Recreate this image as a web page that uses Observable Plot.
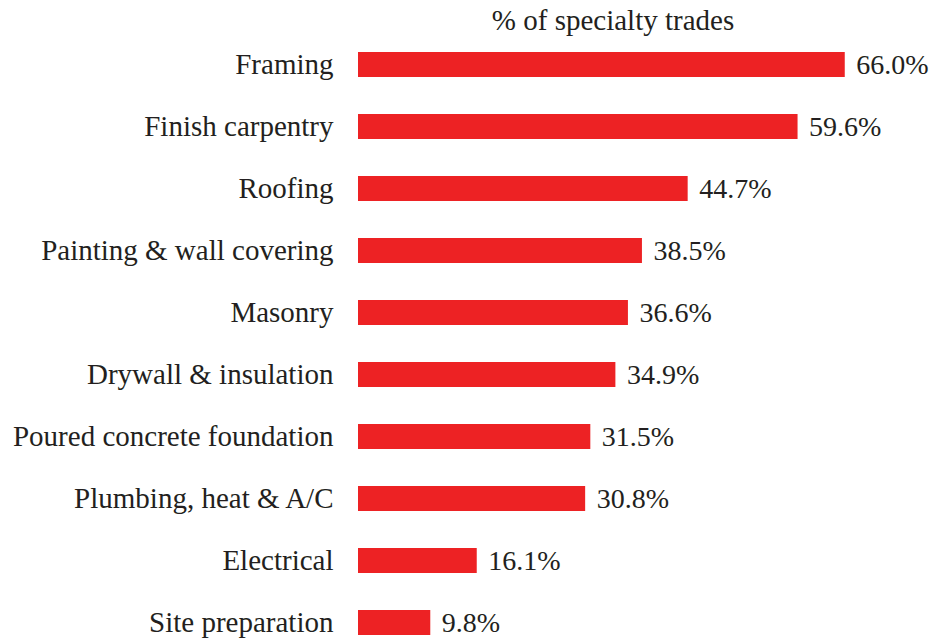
<!DOCTYPE html>
<html>
<head>
<meta charset="utf-8">
<script src="https://cdn.jsdelivr.net/npm/d3@7"></script>
<script src="https://cdn.jsdelivr.net/npm/@observablehq/plot@0.6"></script>
<style>
  html, body { margin: 0; padding: 0; background: #fff; }
</style>
</head>
<body>
<div id="chart"></div>
<script>
const categories = [
  "Framing",
  "Finish carpentry",
  "Roofing",
  "Painting & wall covering",
  "Masonry",
  "Drywall & insulation",
  "Poured concrete foundation",
  "Plumbing, heat & A/C",
  "Electrical",
  "Site preparation"
];
const values = [66.0, 59.6, 44.7, 38.5, 36.6, 34.9, 31.5, 30.8, 16.1, 9.8];
const title = "% of specialty trades";

const data = categories.map((c, i) => ({category: c, value: values[i]}));
const barColor = "#ed2224";
const textColor = "#231f20";
const font = "Liberation Serif";

const chart = Plot.plot({
  width: 932,
  height: 640,
  marginLeft: 358,
  marginRight: 43,
  marginTop: 49,
  marginBottom: 3,
  style: {fontFamily: font, fontSize: "29px"},
  x: {domain: [0, 72], axis: null},
  y: {domain: categories, paddingInner: 0.6, paddingOuter: 0, label: null},
  marks: [
    Plot.axisY({tickSize: 0, tickPadding: 25, fontSize: 29, label: null, fill: textColor}),
    Plot.barX(data, {x: "value", y: "category", fill: barColor}),
    Plot.text(data, {x: "value", y: "category", text: d => d.value.toFixed(1) + "%", textAnchor: "start", dx: 11, fontSize: 28, fill: textColor}),
    Plot.text([title], {frameAnchor: "top", lineAnchor: "middle", dy: -29, dx: -11, fontSize: 29, fill: textColor})
  ]
});
document.getElementById("chart").appendChild(chart);
</script>
</body>
</html>
